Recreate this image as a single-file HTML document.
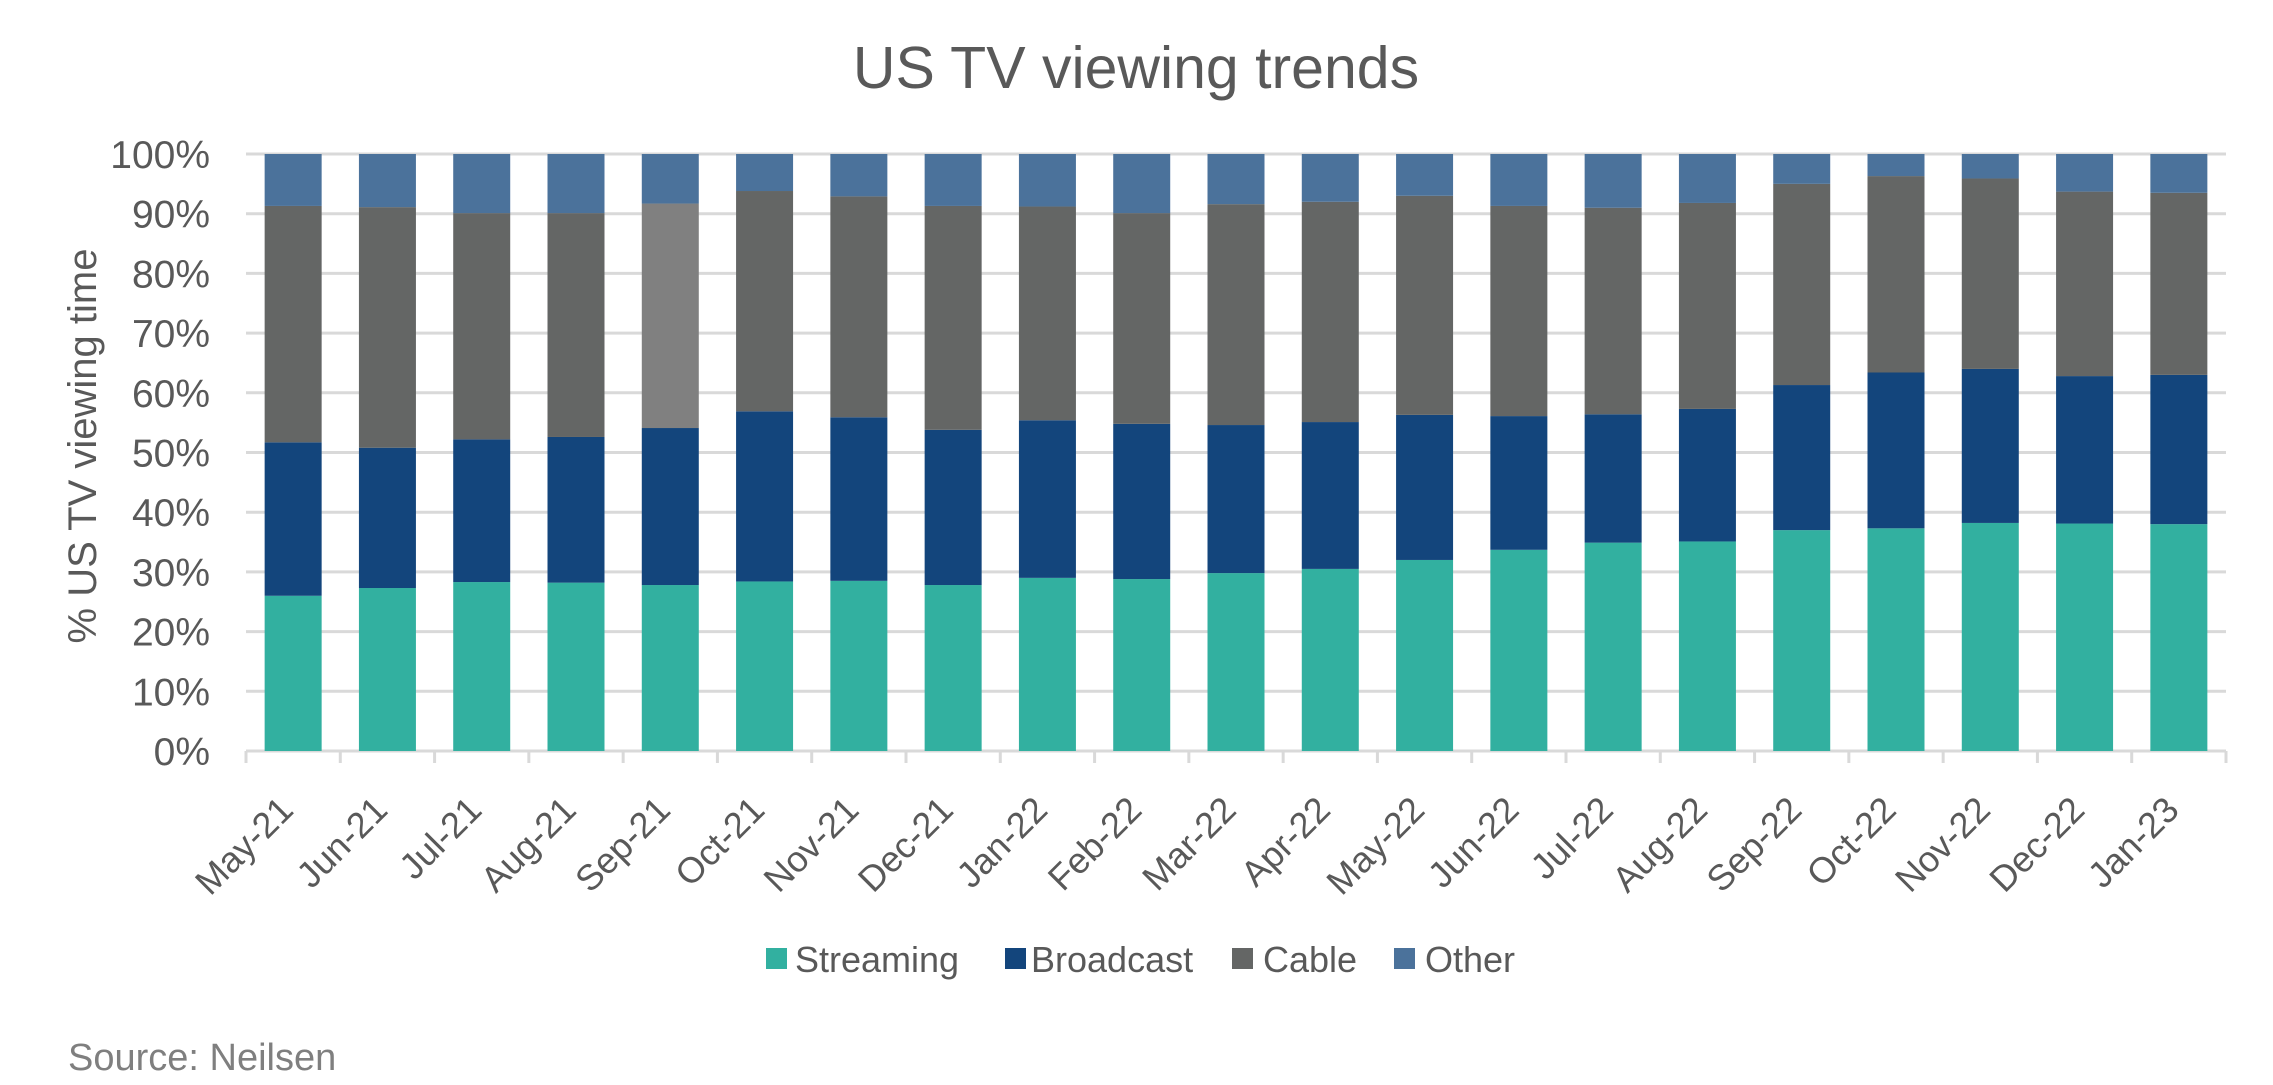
<!DOCTYPE html>
<html><head><meta charset="utf-8"><style>
html,body{margin:0;padding:0;background:#fff;}
svg{display:block;font-family:"Liberation Sans",sans-serif;}
</style></head><body>
<svg id="chart" width="2273" height="1085" viewBox="0 0 2273 1085">
<text x="1136" y="88" text-anchor="middle" font-size="59" fill="#595959">US TV viewing trends</text>
<g id="grid"></g><g id="bars"></g><g id="axes"></g>
<text transform="translate(96,446) rotate(-90)" text-anchor="middle" font-size="40" fill="#595959">% US TV viewing time</text>
<g font-size="36" fill="#595959">
<g><rect x="766" y="948" width="21" height="21" fill="#32b0a0"/><text x="795" y="972">Streaming</text></g>
<g><rect x="1005" y="948" width="21" height="21" fill="#13457c"/><text x="1031" y="972">Broadcast</text></g>
<g><rect x="1232" y="948" width="21" height="21" fill="#646665"/><text x="1263" y="972">Cable</text></g>
<g><rect x="1394" y="948" width="21" height="21" fill="#4b729b"/><text x="1425" y="972">Other</text></g>
</g>
<text x="68" y="1070" font-size="38" fill="#7f7f7f">Source: Neilsen</text>
</svg>
<script>
const categories=["May-21","Jun-21","Jul-21","Aug-21","Sep-21","Oct-21","Nov-21","Dec-21","Jan-22","Feb-22","Mar-22","Apr-22","May-22","Jun-22","Jul-22","Aug-22","Sep-22","Oct-22","Nov-22","Dec-22","Jan-23"];
const streaming=[26,27.3,28.3,28.2,27.8,28.4,28.5,27.8,29,28.8,29.8,30.5,32,33.7,34.9,35.1,37,37.3,38.2,38.1,38];
const broadcast=[25.7,23.5,23.9,24.4,26.3,28.5,27.4,26,26.4,26,24.8,24.6,24.3,22.4,21.5,22.2,24.3,26.1,25.8,24.7,25];
const cable=[39.6,40.3,37.9,37.5,37.6,36.9,37,37.5,35.8,35.3,37,36.9,36.7,35.2,34.6,34.5,33.7,32.9,31.9,30.9,30.5];
const other=[8.7,8.9,9.9,9.9,8.3,6.2,7.1,8.7,8.8,9.9,8.4,8,7,8.7,9,8.2,5,3.7,4.1,6.3,6.5];
const yTicks=[0,10,20,30,40,50,60,70,80,90,100];
const highlightIndex=4;
const NS="http://www.w3.org/2000/svg";
const X0=246,X1=2226,Y0=751,Y1=154;
const step=(X1-X0)/categories.length, bw=57;
function y(v){return Y0-(v/100)*(Y0-Y1);}
function xc(i){return X0+step*(i+0.5);}
function mk(t,a,p){const e=document.createElementNS(NS,t);for(const k in a)e.setAttribute(k,a[k]);p.appendChild(e);return e;}
const grid=document.getElementById('grid'),bars=document.getElementById('bars'),axes=document.getElementById('axes');
yTicks.forEach(t=>{
 const l=mk('line',{x1:X0,x2:X1,y1:y(t),y2:y(t),stroke:'#d9d9d9','stroke-width':3},grid);
 
 
 const tx=mk('text',{x:210,y:y(t)+14,'text-anchor':'end','font-size':39,fill:'#595959'},axes);
 tx.textContent=t+'%';
 
 
});
for(let i=0;i<=categories.length;i++){
 const tk=mk('line',{x1:X0+step*i,x2:X0+step*i,y1:Y0,y2:Y0+12,stroke:'#d9d9d9','stroke-width':3},axes);
 
 
}
const series=[["streaming",streaming,"#32b0a0"],["broadcast",broadcast,"#13457c"],["cable",cable,"#646665"],["other",other,"#4b729b"]];
categories.forEach((c,i)=>{
 let base=0;
 series.forEach(([n,vals,col])=>{
  const v=vals[i];
  let fill=col;
  if(n==="cable"&&i===highlightIndex)fill="#808080";
  const r=mk('rect',{x:xc(i)-bw/2,y:y(base+v),width:bw,height:y(base)-y(base+v),fill:fill},bars);
  
  
  base+=v;
 });
 const lx=xc(i)+2,ly=812;
 const t=mk('text',{x:lx,y:ly,'text-anchor':'end','font-size':36,fill:'#595959',transform:`rotate(-45 ${lx} ${ly})`},axes);
 t.textContent=c;
 
 
});
</script>
</body></html>
